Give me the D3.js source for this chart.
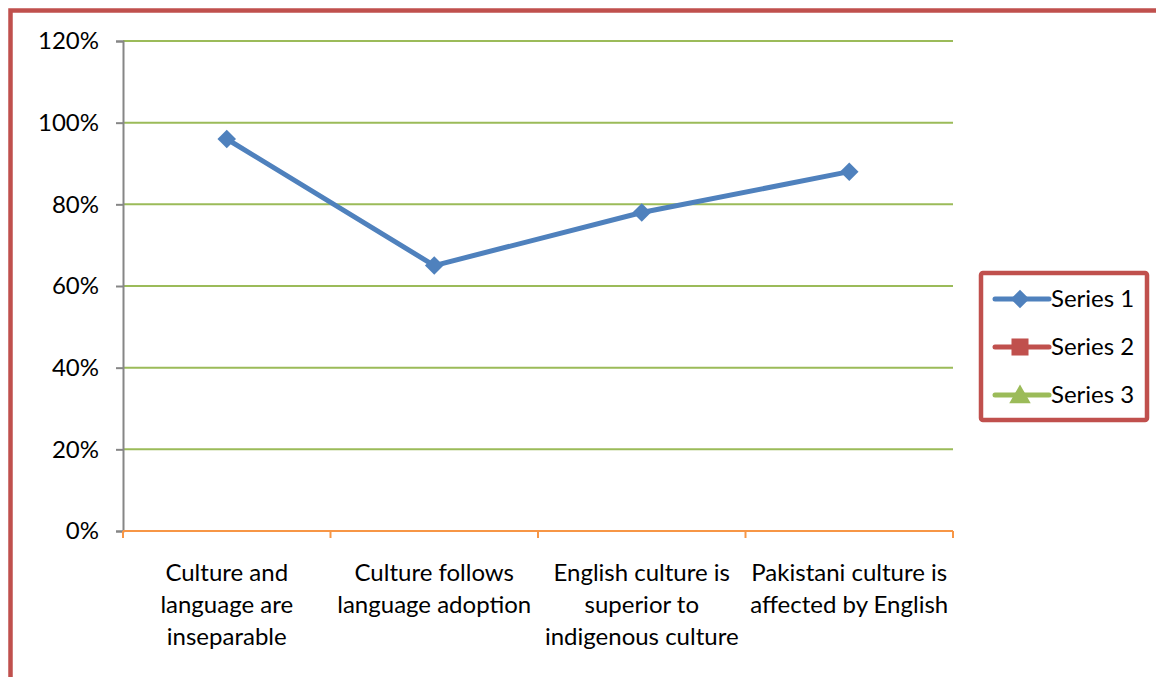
<!DOCTYPE html>
<html><head><meta charset="utf-8">
<script src="https://cdn.jsdelivr.net/npm/d3@7"></script>
<style>body{margin:0;background:#fff}svg{display:block}</style>
</head><body>
<svg id="c" width="1156" height="677"></svg>
<script>
const categories = [
  ["Culture and", "language are", "inseparable"],
  ["Culture follows", "language adoption"],
  ["English culture is", "superior to", "indigenous culture"],
  ["Pakistani culture is", "affected by English"]
];
const series1 = [0.96, 0.65, 0.78, 0.88];
const seriesNames = ["Series 1", "Series 2", "Series 3"];
const seriesColors = ["#4F81BD", "#C0504D", "#9BBB59"];
const yTicks = [0, 0.2, 0.4, 0.6, 0.8, 1.0, 1.2];

const svg = d3.select("#c");
const font = "Lato, 'Open Sans', sans-serif";
const fs = 24;

// outer border
svg.append("rect").attr("x", 10.5).attr("y", 10.5).attr("width", 1200).attr("height", 800)
  .attr("fill", "none").attr("stroke", "#C0504D").attr("stroke-width", 4.5);

const L = 123, R = 953, T = 41, B = 531;
const x = d3.scaleBand().domain(d3.range(categories.length)).range([L, R]);
const y = d3.scaleLinear().domain([0, 1.2]).range([B, T]);

// gridlines
svg.append("g").selectAll("line").data(yTicks.filter(d => d > 0)).join("line")
  .attr("x1", L).attr("x2", R).attr("y1", d => y(d)).attr("y2", d => y(d))
  .attr("stroke", "#9BBB59").attr("stroke-width", 2);

// y axis
const yAxis = svg.append("g").attr("transform", `translate(${L},0)`)
  .call(d3.axisLeft(y).tickValues(yTicks).tickFormat(d3.format(".0%")).tickSize(7).tickPadding(17));
yAxis.select(".domain").attr("stroke", "#868686").attr("stroke-width", 2);
yAxis.selectAll(".tick line").attr("stroke", "#868686").attr("stroke-width", 2);
yAxis.selectAll("text").attr("font-family", font).attr("font-size", fs).attr("fill", "#000");

// x axis
const xAxis = svg.append("g").attr("transform", `translate(0,${B})`);
xAxis.append("line").attr("x1", L).attr("x2", R).attr("stroke", "#F79646").attr("stroke-width", 2);
const bounds = d3.range(categories.length + 1).map(i => i < categories.length ? x(i) : x(i - 1) + x.bandwidth());
xAxis.selectAll(".tk").data(bounds).join("line").attr("class", "tk")
  .attr("x1", d => d).attr("x2", d => d).attr("y1", 0).attr("y2", 7)
  .attr("stroke", "#F79646").attr("stroke-width", 2);
categories.forEach((lines, i) => {
  const t = xAxis.append("text").attr("text-anchor", "middle")
    .attr("font-family", font).attr("font-size", fs).attr("fill", "#000");
  lines.forEach((ln, j) => t.append("tspan").attr("x", x(i) + x.bandwidth() / 2).attr("y", 50 + j * 32).text(ln));
});

// line
const cx = i => x(i) + x.bandwidth() / 2;
svg.append("path").datum(series1)
  .attr("d", d3.line().x((d, i) => cx(i)).y(d => y(d)))
  .attr("fill", "none").attr("stroke", seriesColors[0]).attr("stroke-width", 5).attr("stroke-linejoin", "round");
const diamond = d3.symbol().type(d3.symbolDiamond2).size(220);
svg.append("g").selectAll("path").data(series1).join("path")
  .attr("transform", (d, i) => `translate(${cx(i)},${y(d)})`)
  .attr("d", diamond).attr("fill", seriesColors[0]);

// legend
const lg = svg.append("g");
lg.append("rect").attr("x", 981).attr("y", 273).attr("width", 166).attr("height", 147)
  .attr("fill", "#fff").attr("stroke", "#C0504D").attr("stroke-width", 4.5).attr("rx", 2);
const symTypes = [d3.symbolDiamond2, d3.symbolSquare, d3.symbolTriangle];
const symSizes = [220, 290, 200];
seriesNames.forEach((name, i) => {
  const yy = 299 + i * 48;
  lg.append("line").attr("x1", 995).attr("x2", 1049).attr("y1", yy).attr("y2", yy)
    .attr("stroke", seriesColors[i]).attr("stroke-width", 5).attr("stroke-linecap", "round");
  lg.append("path").attr("transform", `translate(1020,${yy + (i === 2 ? 2 : 0)})`)
    .attr("d", d3.symbol().type(symTypes[i]).size(symSizes[i])).attr("fill", seriesColors[i]);
  lg.append("text").attr("x", 1051).attr("y", yy).attr("dy", "0.35em")
    .attr("font-family", font).attr("font-size", fs).attr("fill", "#000").text(name);
});
</script>
</body></html>
